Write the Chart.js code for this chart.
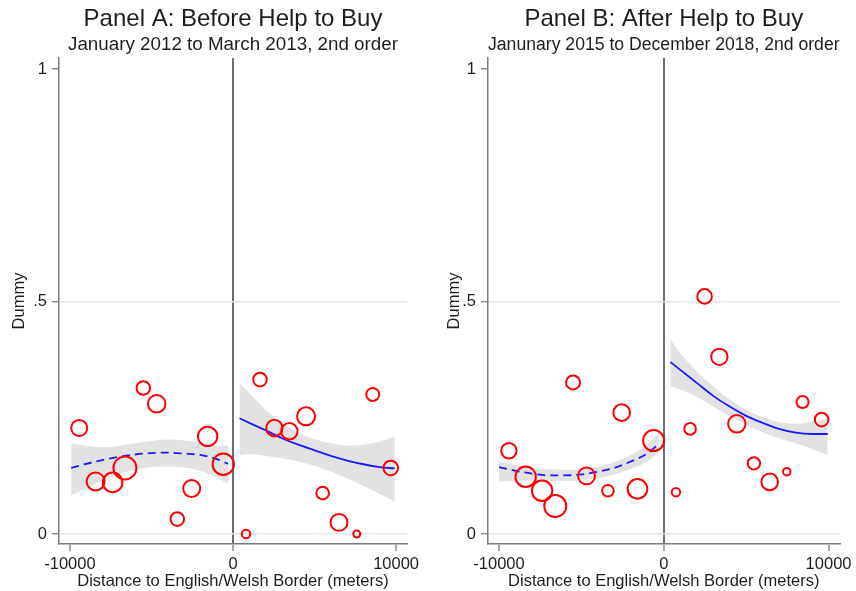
<!DOCTYPE html>
<html>
<head>
<meta charset="utf-8">
<script src="https://cdn.jsdelivr.net/npm/chart.js@4.4.1/dist/chart.umd.min.js"></script>
<style>
  html, body { margin: 0; padding: 0; background: #fff; overflow: hidden; }
  #wrap { position: relative; width: 856px; height: 591px; }
  canvas { position: absolute; top: 0; }
  #chartA { left: 0; }
  #chartB { left: 428px; }
</style>
</head>
<body>
<div id="wrap">
  <canvas id="chartA" width="428" height="591"></canvas>
  <canvas id="chartB" width="428" height="591"></canvas>
</div>
<script>
// Axes
const xTicks = [-10000, 0, 10000];
const yTicks = [0, 0.5, 1];
const yTickLabels = ["0", ".5", "1"];

// Panel A - bins (distance, share, weight)
const aDist = [-9430, -8425, -7380, -6626, -5500, -4680, -3417, -2534, -1555, -595, 800, 1656, 2536, 3456, 4480, 5500, 6500, 7590, 8570, 9675];
const aShare = [0.228, 0.113, 0.111, 0.142, 0.314, 0.280, 0.032, 0.098, 0.210, 0.150, 0.0, 0.332, 0.228, 0.221, 0.253, 0.088, 0.025, 0.0, 0.300, 0.142];
const aWeight = [64, 81, 96, 132, 46, 77, 46, 72, 94, 114, 18, 46, 67, 67, 81, 40, 72, 12, 42, 53];

// Panel A - fitted curve and CI
const aLeftX = [-9920, -9000, -8000, -7000, -6000, -5000, -4000, -3000, -2000, -1000, -300];
const aLeftFit = [0.142, 0.151, 0.159, 0.166, 0.171, 0.174, 0.175, 0.173, 0.170, 0.161, 0.151];
const aLeftHi = [0.195, 0.190, 0.187, 0.190, 0.195, 0.200, 0.203, 0.201, 0.197, 0.190, 0.190];
const aLeftLo = [0.084, 0.098, 0.115, 0.129, 0.138, 0.144, 0.145, 0.143, 0.136, 0.122, 0.108];
const aRightX = [400, 1000, 2000, 3000, 4000, 5000, 6000, 7000, 8000, 9000, 9920];
const aRightFit = [0.249, 0.239, 0.223, 0.206, 0.192, 0.180, 0.168, 0.158, 0.150, 0.144, 0.141];
const aRightHi = [0.325, 0.303, 0.267, 0.239, 0.217, 0.204, 0.195, 0.190, 0.192, 0.199, 0.210];
const aRightLo = [0.170, 0.172, 0.168, 0.163, 0.156, 0.147, 0.134, 0.120, 0.103, 0.086, 0.070];

// Panel B - bins
const bDist = [-9400, -8383, -7385, -6587, -5509, -4690, -3393, -2555, -1597, -619, 738, 1597, 2475, 3373, 4431, 5469, 6427, 7465, 8423, 9580];
const bShare = [0.179, 0.123, 0.093, 0.060, 0.326, 0.125, 0.093, 0.261, 0.097, 0.201, 0.090, 0.226, 0.511, 0.381, 0.237, 0.152, 0.112, 0.134, 0.284, 0.246];
const bWeight = [59, 104, 104, 121, 49, 72, 34, 69, 96, 110, 18, 34, 53, 67, 76, 38, 69, 14, 36, 46];

// Panel B - fitted curve and CI
const bLeftX = [-10000, -9000, -8000, -7000, -6000, -5000, -4000, -3000, -2000, -1000, -300];
const bLeftFit = [0.144, 0.136, 0.130, 0.126, 0.126, 0.128, 0.134, 0.142, 0.156, 0.173, 0.194];
const bLeftHi = [0.156, 0.148, 0.142, 0.139, 0.138, 0.140, 0.145, 0.155, 0.170, 0.192, 0.220];
const bLeftLo = [0.113, 0.114, 0.116, 0.114, 0.114, 0.116, 0.120, 0.128, 0.140, 0.156, 0.177];
const bRightX = [400, 1000, 2000, 3000, 4000, 5000, 6000, 7000, 8000, 9000, 9950];
const bRightFit = [0.370, 0.353, 0.325, 0.297, 0.274, 0.254, 0.239, 0.226, 0.218, 0.215, 0.215];
const bRightHi = [0.418, 0.389, 0.350, 0.317, 0.289, 0.267, 0.251, 0.241, 0.237, 0.242, 0.249];
const bRightLo = [0.318, 0.310, 0.295, 0.274, 0.253, 0.235, 0.219, 0.206, 0.195, 0.183, 0.170];

Chart.defaults.font.family = "'Liberation Sans', Arial, sans-serif";
Chart.defaults.color = "#1e1e1e";

const TXT = "#1e1e1e";
const AXIS = "#7a7a7a";
const BLUE = "#1a1aff";
const BAND = "#e2e2e2";

function xy(xs, ys) {
  return xs.map((x, i) => ({ x: x, y: ys[i] }));
}

function curve(xs, ys, dashed) {
  return {
    type: "line", data: xy(xs, ys),
    borderColor: BLUE, borderWidth: 1.8, borderDash: dashed ? [8, 5] : [],
    pointRadius: 0, fill: false, cubicInterpolationMode: "monotone", order: 1
  };
}

function band(xs, ys, fillNext) {
  return {
    type: "line", data: xy(xs, ys),
    borderColor: "rgba(0,0,0,0)", borderWidth: 0, backgroundColor: BAND,
    pointRadius: 0, fill: fillNext ? "+1" : false, cubicInterpolationMode: "monotone", order: 2
  };
}

// Construction d'un panneau
function buildPanel(id, p) {
  const ctx = document.getElementById(id).getContext("2d");
  return new Chart(ctx, {
    type: "scatter",
    data: {
      datasets: [
        {
          type: "scatter", data: xy(p.dist, p.share),
          pointRadius: p.weight.map(w => Math.sqrt(w)),
          pointBorderColor: "#ff0000", pointBackgroundColor: "rgba(0,0,0,0)",
          pointBorderWidth: 2, order: 0
        },
        curve(p.leftX, p.leftFit, true),
        curve(p.rightX, p.rightFit, false),
        band(p.leftX, p.leftHi, true),
        band(p.leftX, p.leftLo, false),
        band(p.rightX, p.rightHi, true),
        band(p.rightX, p.rightLo, false)
      ]
    },
    options: {
      responsive: false,
      animation: false,
      devicePixelRatio: 1,
      layout: { padding: { left: 0, right: p.padRight, top: 0, bottom: 0 } },
      plugins: {
        legend: { display: false },
        tooltip: { enabled: false },
        title: {
          display: true, text: p.title, fullSize: false, color: TXT,
          font: { size: 24, weight: "normal" }, padding: { top: 5, bottom: 0 }
        },
        subtitle: {
          display: true, text: p.subtitle, fullSize: false, color: TXT,
          font: { size: 18.8, weight: "normal" }, padding: { top: 0, bottom: 1.6 }
        }
      },
      scales: {
        x: {
          type: "linear", min: -10670, max: 10670,
          afterBuildTicks: s => { s.ticks = xTicks.map(v => ({ value: v })); },
          afterFit: s => { s.height = 47; },
          ticks: { color: TXT, font: { size: 16.5 }, padding: 4, maxRotation: 0, callback: v => String(v) },
          grid: {
            color: c => (c.tick && c.tick.value === 0) ? "#6e6e6e" : "rgba(0,0,0,0)",
            lineWidth: 2, tickColor: AXIS, tickLength: 7, tickWidth: 1.3
          },
          border: { color: AXIS, width: 1.5 },
          title: {
            display: true, text: "Distance to English/Welsh Border (meters)",
            color: TXT, font: { size: 16.5 }, padding: { top: 0, bottom: 0 }
          }
        },
        y: {
          min: -0.0215, max: 1.0237,
          afterBuildTicks: s => { s.ticks = yTicks.map(v => ({ value: v })); },
          afterFit: s => { s.width = p.axisW; },
          ticks: { color: TXT, font: { size: 16.5 }, padding: 5, callback: v => yTickLabels[yTicks.indexOf(v)] },
          grid: {
            color: c => (c.tick && c.tick.value === 1) ? "rgba(0,0,0,0)" : "#e6e6e6",
            lineWidth: 1.5, tickColor: AXIS, tickLength: 7, tickWidth: 1.3
          },
          border: { color: AXIS, width: 1.5 },
          title: {
            display: true, text: "Dummy", color: TXT,
            font: { size: 16.5 }, padding: { top: p.yTitlePad, bottom: 0 }
          }
        }
      }
    }
  });
}

buildPanel("chartA", {
  title: "Panel A: Before Help to Buy",
  subtitle: "January 2012 to March 2013, 2nd order",
  dist: aDist, share: aShare, weight: aWeight,
  leftX: aLeftX, leftFit: aLeftFit, leftHi: aLeftHi, leftLo: aLeftLo,
  rightX: aRightX, rightFit: aRightFit, rightHi: aRightHi, rightLo: aRightLo,
  axisW: 59, padRight: 21, yTitlePad: 9.4
});

buildPanel("chartB", {
  title: "Panel B: After Help to Buy",
  subtitle: "Janunary 2015 to December 2018, 2nd order",
  dist: bDist, share: bShare, weight: bWeight,
  leftX: bLeftX, leftFit: bLeftFit, leftHi: bLeftHi, leftLo: bLeftLo,
  rightX: bRightX, rightFit: bRightFit, rightHi: bRightHi, rightLo: bRightLo,
  axisW: 60, padRight: 13, yTitlePad: 16.4
});
</script>
</body>
</html>
